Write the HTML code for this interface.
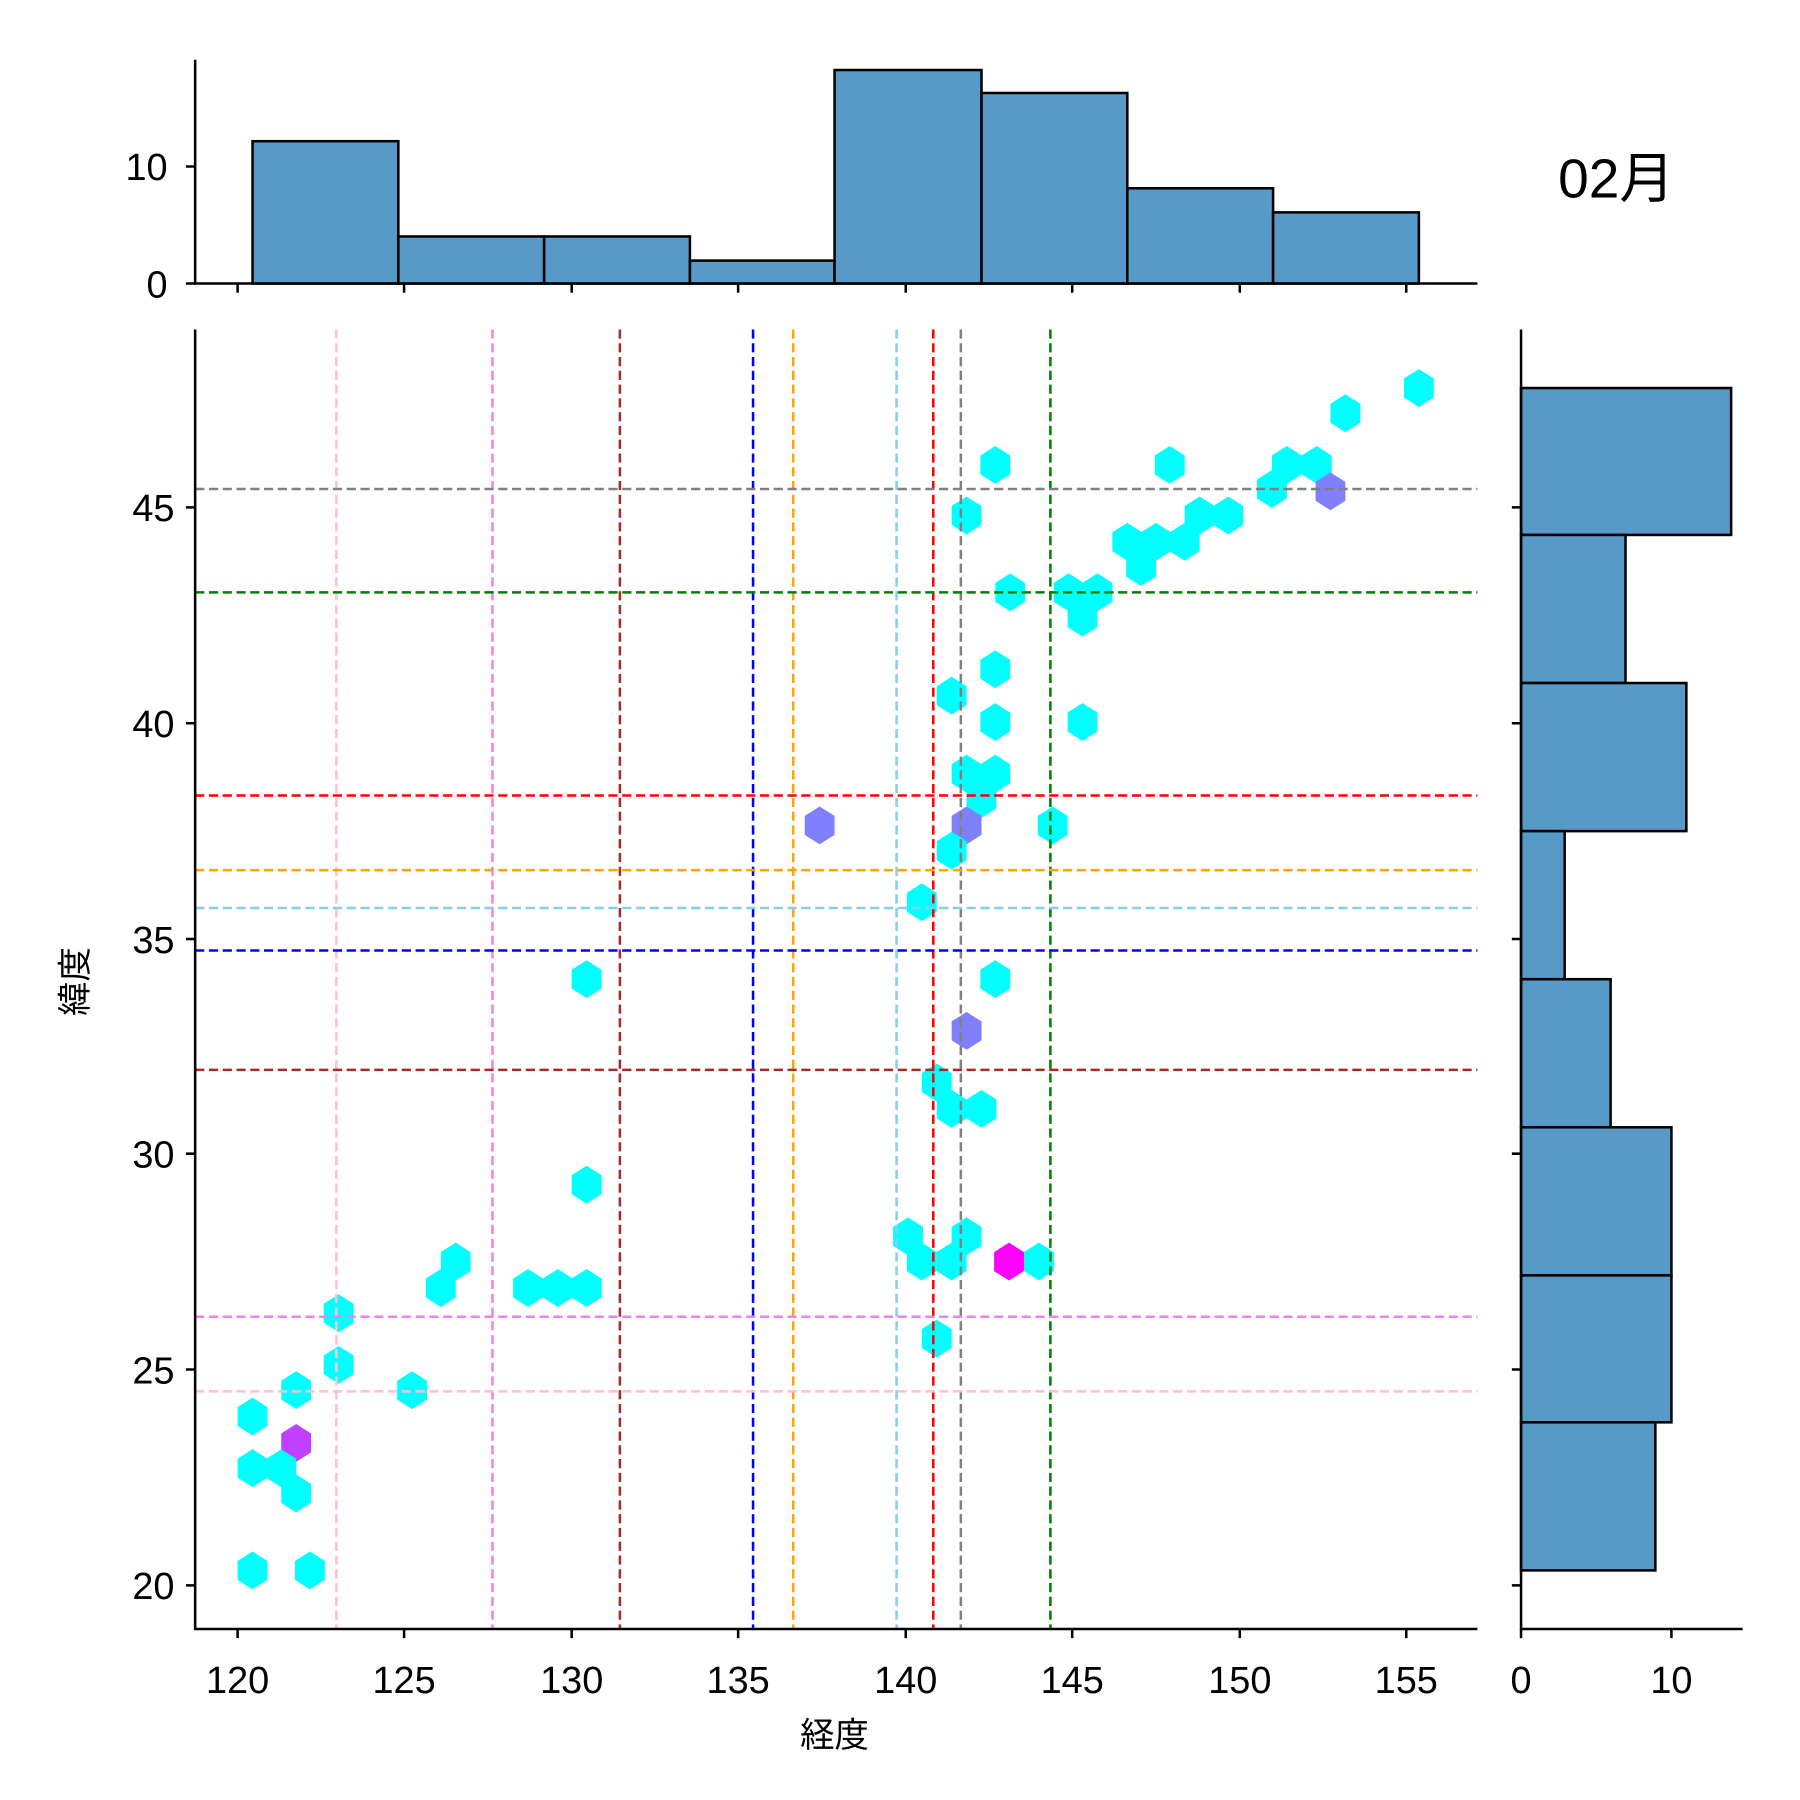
<!DOCTYPE html>
<html><head><meta charset="utf-8"><style>html,body{margin:0;padding:0;background:#fff}svg{display:block}text{font-family:"Liberation Sans","Noto Sans CJK JP",sans-serif;fill:#000}</style></head><body>
<svg width="1800" height="1800" viewBox="0 0 1568 1568" xmlns="http://www.w3.org/2000/svg">
<defs><polygon id="h" points="0,-16.5 13,-8.25 13,8.25 0,16.5 -13,8.25 -13,-8.25"/></defs>
<g fill="#00ffff">
<use href="#h" x="1236" y="338"/><use href="#h" x="1172" y="360"/><use href="#h" x="867" y="405"/><use href="#h" x="1019" y="405"/><use href="#h" x="1121" y="405"/><use href="#h" x="1147" y="405"/><use href="#h" x="1108" y="426"/><use href="#h" x="1159" y="428" fill="#8080ff"/><use href="#h" x="842" y="449"/><use href="#h" x="1045" y="449"/><use href="#h" x="1070" y="449"/><use href="#h" x="982" y="472"/><use href="#h" x="1007" y="472"/><use href="#h" x="1032" y="472"/><use href="#h" x="994" y="494"/><use href="#h" x="880" y="516"/><use href="#h" x="931" y="516"/><use href="#h" x="956" y="516"/><use href="#h" x="943" y="538"/><use href="#h" x="867" y="583"/><use href="#h" x="829" y="606"/><use href="#h" x="867" y="629"/><use href="#h" x="943" y="629"/><use href="#h" x="842" y="674"/><use href="#h" x="867" y="674"/><use href="#h" x="855" y="696"/><use href="#h" x="714" y="719" fill="#8080ff"/><use href="#h" x="842" y="719" fill="#8080ff"/><use href="#h" x="917" y="719"/><use href="#h" x="829" y="741"/><use href="#h" x="803" y="786"/><use href="#h" x="511" y="853"/><use href="#h" x="867" y="853"/><use href="#h" x="842" y="898" fill="#8080ff"/><use href="#h" x="816" y="943"/><use href="#h" x="829" y="966"/><use href="#h" x="855" y="966"/><use href="#h" x="511" y="1032"/><use href="#h" x="791" y="1077"/><use href="#h" x="842" y="1077"/><use href="#h" x="803" y="1099"/><use href="#h" x="829" y="1099"/><use href="#h" x="879" y="1099" fill="#ff00ff"/><use href="#h" x="905" y="1099"/><use href="#h" x="397" y="1099"/><use href="#h" x="384" y="1122"/><use href="#h" x="511" y="1122"/><use href="#h" x="486" y="1122"/><use href="#h" x="460" y="1122"/><use href="#h" x="295" y="1144"/><use href="#h" x="295" y="1189"/><use href="#h" x="816" y="1166"/><use href="#h" x="258" y="1211"/><use href="#h" x="359" y="1211"/><use href="#h" x="220" y="1234"/><use href="#h" x="258" y="1257" fill="#c040ff"/><use href="#h" x="220" y="1279"/><use href="#h" x="245" y="1279"/><use href="#h" x="258" y="1301"/><use href="#h" x="220" y="1368"/><use href="#h" x="270" y="1368"/>
</g>
<g stroke-width="2.2" stroke-dasharray="8,4" fill="none">
<line x1="293" y1="287" x2="293" y2="1419" stroke="pink"/>
<line x1="429" y1="287" x2="429" y2="1419" stroke="violet"/>
<line x1="540" y1="287" x2="540" y2="1419" stroke="brown"/>
<line x1="656" y1="287" x2="656" y2="1419" stroke="blue"/>
<line x1="691" y1="287" x2="691" y2="1419" stroke="orange"/>
<line x1="781" y1="287" x2="781" y2="1419" stroke="skyblue"/>
<line x1="813" y1="287" x2="813" y2="1419" stroke="red"/>
<line x1="837" y1="287" x2="837" y2="1419" stroke="gray"/>
<line x1="915" y1="287" x2="915" y2="1419" stroke="green"/>
<line x1="170" y1="426" x2="1287" y2="426" stroke="gray"/>
<line x1="170" y1="516" x2="1287" y2="516" stroke="green"/>
<line x1="170" y1="693" x2="1287" y2="693" stroke="red"/>
<line x1="170" y1="758" x2="1287" y2="758" stroke="orange"/>
<line x1="170" y1="791" x2="1287" y2="791" stroke="skyblue"/>
<line x1="170" y1="828" x2="1287" y2="828" stroke="blue"/>
<line x1="170" y1="932" x2="1287" y2="932" stroke="brown"/>
<line x1="170" y1="1147" x2="1287" y2="1147" stroke="violet"/>
<line x1="170" y1="1212" x2="1287" y2="1212" stroke="pink"/>
</g>
<g fill="#5799c7" stroke="#000" stroke-width="2.2">
<rect x="220" y="123" width="127" height="124"/>
<rect x="347" y="206" width="127" height="41"/>
<rect x="474" y="206" width="127" height="41"/>
<rect x="601" y="227" width="126" height="20"/>
<rect x="727" y="61" width="128" height="186"/>
<rect x="855" y="81" width="127" height="166"/>
<rect x="982" y="164" width="127" height="83"/>
<rect x="1109" y="185" width="127" height="62"/>
<rect x="1325" y="338" width="183" height="128"/>
<rect x="1325" y="466" width="91" height="129"/>
<rect x="1325" y="595" width="144" height="129"/>
<rect x="1325" y="724" width="38" height="129"/>
<rect x="1325" y="853" width="78" height="129"/>
<rect x="1325" y="982" width="131" height="129"/>
<rect x="1325" y="1111" width="131" height="128"/>
<rect x="1325" y="1239" width="117" height="129"/>
</g>
<g stroke="#000" stroke-width="2.2" fill="none">
<path d="M170 287V1419H1287"/>
<path d="M170 52V247H1287"/>
<path d="M1325 287V1419H1518"/>
<path d="M207 1419v8M352 1419v8M498 1419v8M643 1419v8M789 1419v8M934 1419v8M1080 1419v8M1225 1419v8"/>
<path d="M207 247v8M352 247v8M498 247v8M643 247v8M789 247v8M934 247v8M1080 247v8M1225 247v8"/>
<path d="M170 1381h-8M170 1193h-8M170 1005h-8M170 818h-8M170 630h-8M170 442h-8"/>
<path d="M1325 1381h-8M1325 1193h-8M1325 1005h-8M1325 818h-8M1325 630h-8M1325 442h-8"/>
<path d="M170 247h-8M170 145h-8"/>
<path d="M1325 1419v8M1456 1419v8"/>
</g>
<g font-size="33" text-anchor="middle">
<text x="207" y="1475">120</text><text x="352" y="1475">125</text><text x="498" y="1475">130</text><text x="643" y="1475">135</text><text x="789" y="1475">140</text><text x="934" y="1475">145</text><text x="1080" y="1475">150</text><text x="1225" y="1475">155</text>
<text x="1325" y="1475">0</text><text x="1456" y="1475">10</text>
</g>
<g font-size="33" text-anchor="end">
<text x="152" y="1393">20</text><text x="152" y="1205">25</text><text x="152" y="1017">30</text><text x="152" y="830">35</text><text x="152" y="642">40</text><text x="152" y="454">45</text>
<text x="146" y="259">0</text><text x="146" y="157">10</text>
</g>
<text x="727" y="1522" font-size="30" text-anchor="middle">経度</text>
<text transform="translate(76,855) rotate(-90)" font-size="30" text-anchor="middle">緯度</text>
<text x="1408" y="172" font-size="48" text-anchor="middle">02月</text>
</svg>
</body></html>
